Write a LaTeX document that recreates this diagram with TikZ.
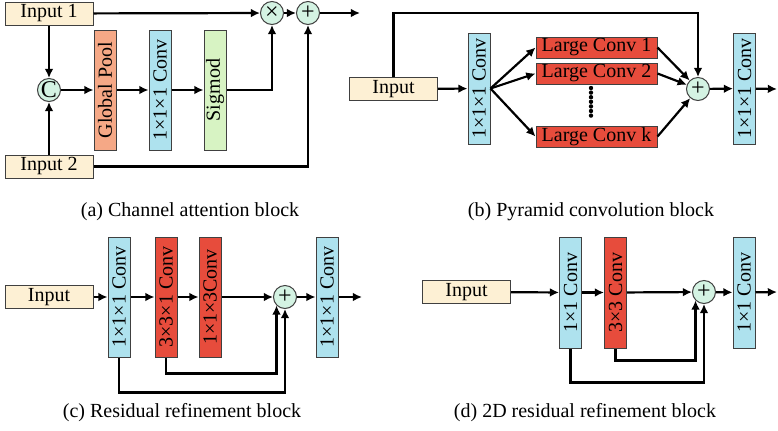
\documentclass[tikz,border=0pt]{standalone}
\usepackage{fontspec}
\setmainfont{Liberation Serif}
\usepackage{tikz}
\usetikzlibrary{shapes, arrows.meta, positioning, calc}

\definecolor{infill}{HTML}{FDF0D4}
\definecolor{poolfill}{HTML}{F5A886}
\definecolor{convfill}{HTML}{AEE2EE}
\definecolor{sigfill}{HTML}{D7F3C3}
\definecolor{redfill}{HTML}{E74C3C}
\definecolor{opfill}{HTML}{D4F3E3}

\begin{document}
\begin{tikzpicture}[x=0.5pt, y=-0.5pt, font=\fontsize{10}{12}\selectfont,
		box/.style={draw=black!75, line width=0.5pt, inner sep=0pt},
		inbox/.style={box, fill=infill, minimum width=44pt, minimum height=11.5pt},
		vbox/.style={box, rotate=90, minimum width=60pt, minimum height=11pt},
		sbox/.style={vbox, minimum width=55.5pt},
		lbox/.style={box, fill=redfill, minimum width=60.5pt, minimum height=10.5pt},
		op/.style={circle, draw=black!75, line width=0.5pt, fill=opfill, minimum size=11.5pt, inner sep=0pt, font=\fontsize{12}{12}\selectfont},
		flow/.style={-{Latex[length=4.6pt,width=4.4pt]}, line width=1.1pt}]
	\useasboundingbox (0,0) rectangle (778,430);

	% (a) channel attention
	\node[inbox] (in1) at (49,13.5) {Input 1};
	\node[inbox] (in2) at (49,166.5) {Input 2};
	\node[op] (cat) at (49,90) {C};
	\node[vbox, fill=poolfill] (gp) at (105,90) {Global Pool};
	\node[vbox, fill=convfill] (ca) at (160,90) {1×1×1 Conv};
	\node[vbox, fill=sigfill] (sg) at (215,90) {Sigmod};
	\node[op] (mul) at (272,13) {×};
	\node[op] (adda) at (308,13) {+};
	\coordinate (outa) at (360,13);
	\draw[flow] (in1) -- (mul);
	\draw[flow] (in1) -- (cat);
	\draw[flow] (in2) -- (cat);
	\draw[flow] (cat) -- (gp);
	\draw[flow] (gp) -- (ca);
	\draw[flow] (ca) -- (sg);
	\draw[flow] (sg) -| (mul);
	\draw[flow] (in2) -| (adda);
	\draw[flow] (mul) -- (adda);
	\draw[flow] (adda) -- (outa);
	\node (capa) at (190,212) {(a) Channel attention block};

	% (b) pyramid convolution
	\node[inbox] (inb) at (393.5,89) {Input};
	\node[sbox, fill=convfill] (pb1) at (479,88.5) {1×1×1 Conv};
	\node[lbox] (lc1) at (596.5,47.5) {Large Conv 1};
	\node[lbox] (lc2) at (596.5,73.5) {Large Conv 2};
	\node[lbox] (lck) at (596.5,136.5) {Large Conv k};
	\foreach \y in {88,92.6,...,116} \fill (591,\y) circle (1.1pt);
	\node[op] (addb) at (698,89) {+};
	\node[sbox, fill=convfill] (pb2) at (744.5,88.5) {1×1×1 Conv};
	\coordinate (skb) at (698,13);
	\coordinate (outb) at (777,89);
	\draw[flow] (inb) -- (pb1);
	\draw[flow] (inb.north) |- (skb) -- (addb);
	\draw[flow] (pb1.south) -- (lc1.west);
	\draw[flow] (pb1.south) -- (lc2.west);
	\draw[flow] (pb1.south) -- (lck.west);
	\draw[flow] (lc1.east) -- (addb);
	\draw[flow] (lc2.east) -- (addb);
	\draw[flow] (lck.east) -- (addb);
	\draw[flow] (addb) -- (pb2);
	\draw[flow] (pb2) -- (outb);
	\node (capb) at (591,212) {(b) Pyramid convolution block};

	% (c) residual refinement
	\node[inbox] (inc) at (49,297) {Input};
	\node[vbox, fill=convfill] (pc1) at (119,297) {1×1×1 Conv};
	\node[vbox, fill=redfill] (pc2) at (166,297) {3×3×1 Conv};
	\node[vbox, fill=redfill] (pc3) at (210,297) {1×1×3Conv};
	\node[op] (addc) at (285,297) {+};
	\node[vbox, fill=convfill] (pc4) at (327,297) {1×1×1 Conv};
	\coordinate (outc) at (362,297);
	\draw[flow] (inc) -- (pc1);
	\draw[flow] (pc1) -- (pc2);
	\draw[flow] (pc2) -- (pc3);
	\draw[flow] (pc3) -- (addc);
	\draw[flow] (addc) -- (pc4);
	\draw[flow] (pc4) -- (outc);
	\draw[flow] (pc2.west) -- ++(0,16) -| (addc.south west);
	\draw[flow] (pc1.west) -- ++(0,35) -| (addc.south);
	\node (capc) at (182,413) {(c) Residual refinement block};

	% (d) 2D residual refinement
	\node[inbox] (ind) at (466.5,292) {Input};
	\node[sbox, fill=convfill] (pd1) at (570.5,292.5) {1×1 Conv};
	\node[sbox, fill=redfill] (pd2) at (615.5,292.5) {3×3 Conv};
	\node[op] (addd) at (704,292) {+};
	\node[sbox, fill=convfill] (pd3) at (744,292.5) {1×1 Conv};
	\coordinate (outd) at (777,292);
	\draw[flow] (ind) -- (pd1);
	\draw[flow] (pd1) -- (pd2);
	\draw[flow] (pd2) -- (addd);
	\draw[flow] (addd) -- (pd3);
	\draw[flow] (pd3) -- (outd);
	\draw[flow] (pd2.west) -- ++(0,12) -| (addd.south west);
	\draw[flow] (pd1.west) -- ++(0,34) -| (addd.south);
	\node (capd) at (585,413) {(d) 2D residual refinement block};
\end{tikzpicture}
\end{document}
